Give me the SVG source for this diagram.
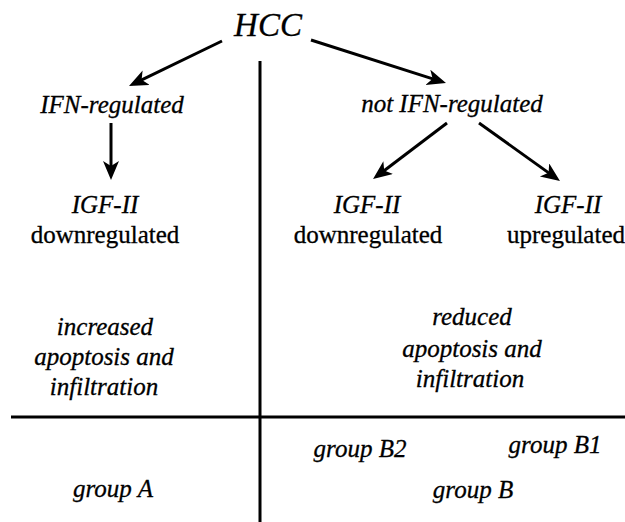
<svg xmlns="http://www.w3.org/2000/svg" width="625" height="522" viewBox="0 0 625 522">
<style>
text{font-family:"Liberation Serif","Times New Roman",serif;font-size:25px;fill:#000;stroke:#000;stroke-width:0.3;text-anchor:middle}
.i{font-style:italic}
.big{font-size:33px}
.ln{stroke:#000;stroke-width:3;fill:none}
.ar{stroke:#000;stroke-width:3;fill:none;marker-end:url(#ah)}
</style>
<defs>
<marker id="ah" markerUnits="userSpaceOnUse" markerWidth="22" markerHeight="18" viewBox="0 0 22 18" refX="6" refY="8" orient="auto">
<path d="M0,0 L19,8 L0,16 L5,8 z" fill="#000"/>
</marker>
</defs>
<rect width="625" height="522" fill="#fff"/>
<g id="connectors">
<line class="ln" x1="260" y1="61" x2="260" y2="522"/>
<line class="ln" x1="11" y1="417" x2="625" y2="417"/>
<line class="ar" x1="222" y1="41" x2="140.7" y2="80.3"/>
<line class="ar" x1="311" y1="40" x2="433.6" y2="79.1"/>
<line class="ar" x1="111" y1="123" x2="111" y2="167"/>
<line class="ar" x1="447" y1="123" x2="383.4" y2="171.2"/>
<line class="ar" x1="479" y1="123" x2="549.4" y2="173.4"/>
</g>
<g id="hcc"><text class="i big" x="268" y="36">HCC</text></g>
<g id="ifn"><text class="i" x="112" y="113">IFN-regulated</text></g>
<g id="notifn"><text class="i" x="452" y="112">not IFN-regulated</text></g>
<g id="igf-left"><text class="i" x="105" y="213">IGF-II</text><text x="105" y="243">downregulated</text></g>
<g id="igf-mid"><text class="i" x="367" y="213">IGF-II</text><text x="368" y="243">downregulated</text></g>
<g id="igf-right"><text class="i" x="568" y="213">IGF-II</text><text x="566" y="243">upregulated</text></g>
<g id="increased"><text class="i" x="105" y="335">increased</text><text class="i" x="104" y="365">apoptosis and</text><text class="i" x="104" y="395">infiltration</text></g>
<g id="reduced"><text class="i" x="472" y="325">reduced</text><text class="i" x="472" y="357">apoptosis and</text><text class="i" x="470" y="387">infiltration</text></g>
<g id="groupA"><text class="i" x="113" y="497">group A</text></g>
<g id="groupB2"><text class="i" x="360" y="457">group B2</text></g>
<g id="groupB1"><text class="i" x="555" y="453">group B1</text></g>
<g id="groupB"><text class="i" x="473" y="498">group B</text></g>
</svg>
